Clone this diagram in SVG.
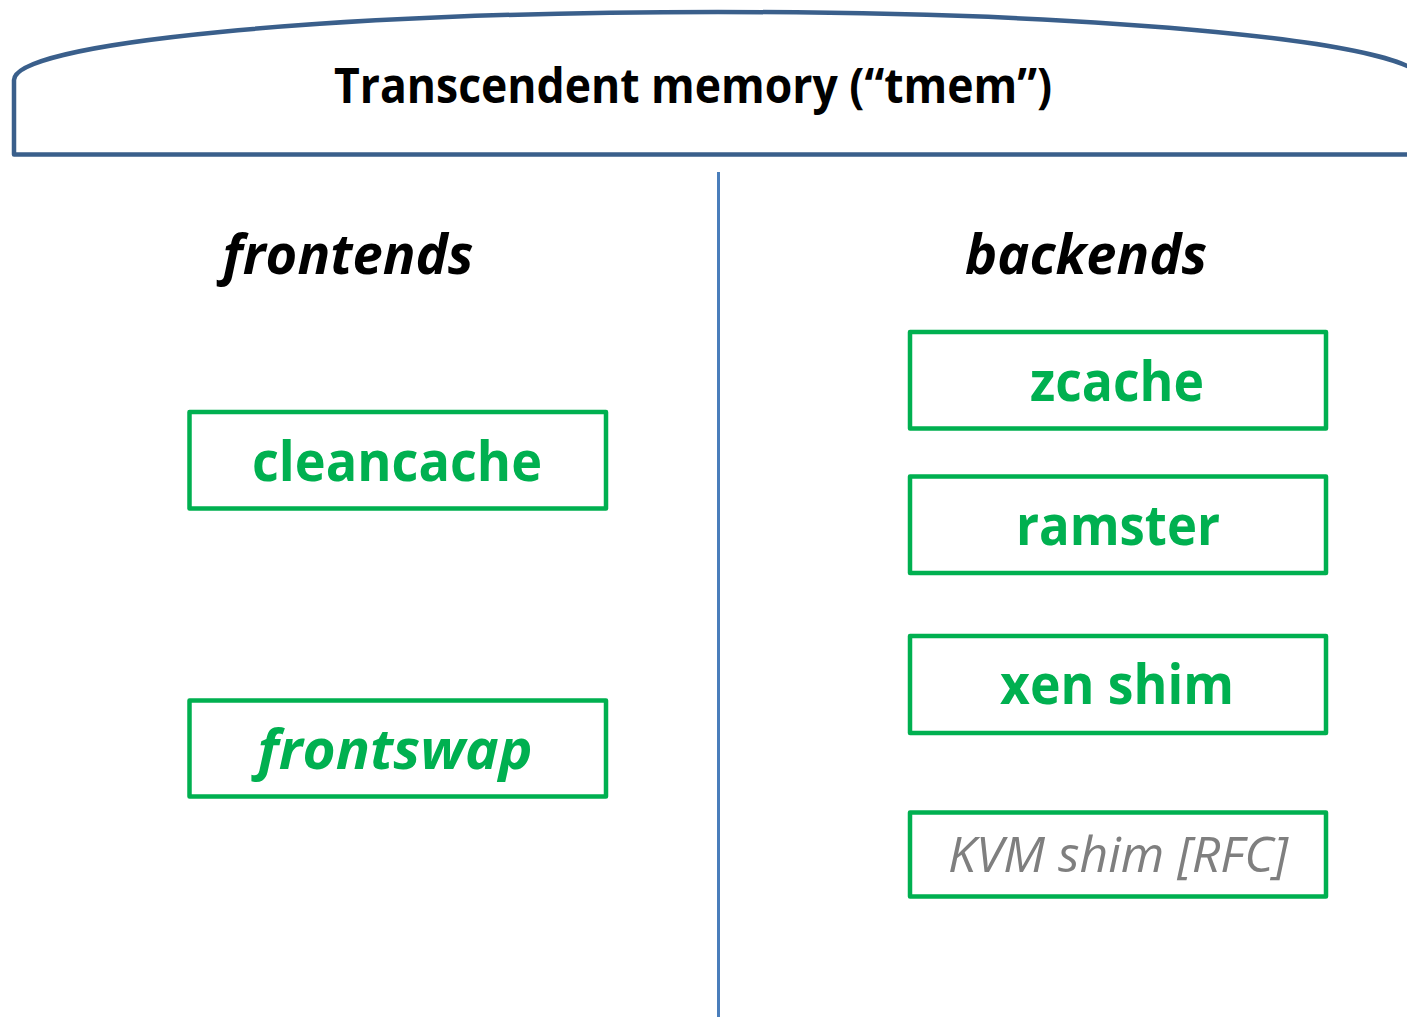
<svg xmlns="http://www.w3.org/2000/svg" width="1407" height="1017" viewBox="0 0 1407 1017">
<style>
text{font-family:"Open Sans","Noto Sans","Liberation Sans",sans-serif;text-anchor:middle}
.title{font-size:48px;font-weight:700;fill:#000}
.head{font-size:56px;font-weight:700;font-style:italic;fill:#000}
.box{fill:#fff;stroke:#00B050;stroke-width:4.5;stroke-linejoin:round}
.g{font-size:56px;font-weight:700;fill:#00B050}
.gi{font-style:italic}
.kvm{font-size:50px;font-style:italic;fill:#7F7F7F}
</style>
<rect width="1407" height="1017" fill="#fff"/>
<g id="tmem">
<path d="M14,154.5 V80 A704,68 0 0 1 1422,80 V154.5 Z" fill="#fff" stroke="#3A5F8B" stroke-width="4.5" stroke-linejoin="round"/>
<text class="title" x="693" y="103" textLength="718" lengthAdjust="spacingAndGlyphs">Transcendent memory (“tmem”)</text>
</g>
<g id="connectors">
<line x1="718.5" y1="172" x2="718.5" y2="1017" stroke="#4A7EBB" stroke-width="3"/>
</g>
<g id="frontends"><text class="head" x="348" y="274" textLength="251" lengthAdjust="spacingAndGlyphs">frontends</text></g>
<g id="backends"><text class="head" x="1086" y="274" textLength="242" lengthAdjust="spacingAndGlyphs">backends</text></g>
<g id="cleancache">
<rect class="box" x="189.5" y="412" width="416.5" height="96.5"/>
<text class="g" x="397" y="481" textLength="290" lengthAdjust="spacingAndGlyphs">cleancache</text>
</g>
<g id="frontswap">
<rect class="box" x="189.5" y="700.5" width="416.5" height="96"/>
<text class="g gi" x="395" y="769" textLength="275" lengthAdjust="spacingAndGlyphs">frontswap</text>
</g>
<g id="zcache">
<rect class="box" x="910" y="332" width="416" height="96.5"/>
<text class="g" x="1117" y="401" textLength="174" lengthAdjust="spacingAndGlyphs">zcache</text>
</g>
<g id="ramster">
<rect class="box" x="910" y="476.5" width="416" height="96.5"/>
<text class="g" x="1118" y="545" textLength="204" lengthAdjust="spacingAndGlyphs">ramster</text>
</g>
<g id="xenshim">
<rect class="box" x="910" y="636" width="416" height="97"/>
<text class="g" x="1117" y="704" textLength="234" lengthAdjust="spacingAndGlyphs">xen shim</text>
</g>
<g id="kvmshim">
<rect class="box" x="910" y="812.5" width="416" height="84"/>
<text class="kvm" x="1118" y="872" textLength="340" lengthAdjust="spacingAndGlyphs">KVM shim [RFC]</text>
</g>
</svg>
